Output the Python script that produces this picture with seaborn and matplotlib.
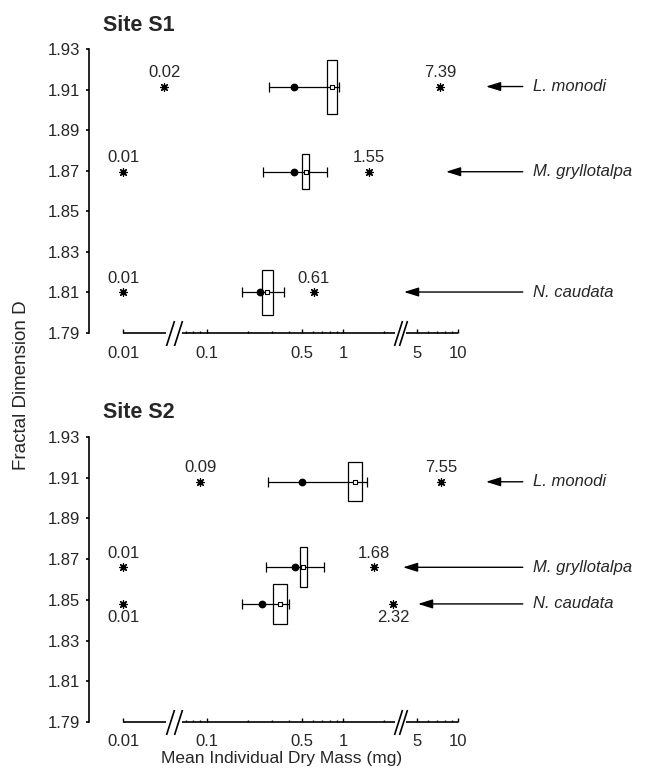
import numpy as np
import pandas as pd
import seaborn as sns
import matplotlib.pyplot as plt
from matplotlib.path import Path
from matplotlib.ticker import FixedLocator, FixedFormatter

species = ["L. monodi", "M. gryllotalpa", "N. caudata"]

# Site S1
s1_D = [1.9115, 1.8695, 1.8102]
s1_D_err = [0.0133, 0.0086, 0.0111]
s1_mean = [0.831, 0.531, 0.278]
s1_box_lo = [0.756, 0.501, 0.255]
s1_box_hi = [0.904, 0.564, 0.304]
s1_median = [0.436, 0.436, 0.246]
s1_range_lo = [0.287, 0.257, 0.182]
s1_range_hi = [0.935, 0.756, 0.368]
s1_min = [0.02, 0.01, 0.01]
s1_max = [7.39, 1.55, 0.61]

# Site S2
s2_D = [1.908, 1.866, 1.848]
s2_D_err = [0.0096, 0.0098, 0.0098]
s2_mean = [1.212, 0.510, 0.344]
s2_box_lo = [1.077, 0.482, 0.307]
s2_box_hi = [1.364, 0.540, 0.389]
s2_median = [0.496, 0.445, 0.255]
s2_range_lo = [0.282, 0.270, 0.182]
s2_range_hi = [1.483, 0.726, 0.400]
s2_min = [0.09, 0.01, 0.01]
s2_max = [7.55, 1.68, 2.32]

y_ticks = [1.79, 1.81, 1.83, 1.85, 1.87, 1.89, 1.91, 1.93]
x_major = [0.01, 0.1, 0.5, 1, 5, 10]
x_major_labels = ["0.01", "0.1", "0.5", "1", "5", "10"]
x_minor = [0.07, 0.08, 0.09, 0.2, 0.3, 0.4, 0.6, 0.7, 0.8, 0.9, 2, 6, 7, 8, 9]
# pieces of the broken x axis
pieces = [(0.01, 0.0205), (0.066, 2.39), (4.16, 10)]

# broken log scale: every piece uses the same decade length (pixel-like units)
DEC = 136.6
log_pts = np.log10([1e-3, 0.0205, 0.066, 2.39, 4.16, 100])
pos_pts = np.array([123 + DEC * (l + 2) for l in log_pts[:2]]
                   + [343.3 + DEC * l for l in log_pts[2:4]]
                   + [458 + DEC * (l - 1) for l in log_pts[4:]])


def fwd(v):
    v = np.clip(np.asarray(v, dtype=float), 1e-6, None)
    return np.interp(np.log10(v), log_pts, pos_pts)


def inv(p):
    return 10 ** np.interp(np.asarray(p, dtype=float), pos_pts, log_pts)


sns.set_style("ticks")
plt.rcParams['font.family'] = ['Liberation Sans', 'DejaVu Sans']

fig = plt.figure(figsize=(6.51, 7.69), dpi=100)
AX_L, AX_R = 89, 470          # axes edges in pixels
ax_w = (AX_R - AX_L) / 651


def fx(px):
    return (px - AX_L) / (AX_R - AX_L)


slash = Path([(-0.16, -0.5), (0.16, 0.5)], [Path.MOVETO, Path.LINETO])


def draw_site(ax, title, D, dD, mean, lo, hi, med, rlo, rhi, mn, mx, below, tips):
    ax.set_xscale('function', functions=(fwd, inv))
    ax.set_xlim(inv(AX_L), inv(AX_R))
    ax.set_ylim(1.79, 1.93)

    # boxes
    ax.barh(D, np.array(hi) - np.array(lo), left=lo, height=2 * np.array(dD),
            fill=False, edgecolor='black', linewidth=0.9, zorder=2)
    # median with range
    ax.errorbar(med, D, xerr=[np.array(med) - np.array(rlo), np.array(rhi) - np.array(med)],
                fmt='o', color='black', ms=4.6, elinewidth=0.9, capsize=3.6,
                capthick=0.9, zorder=3)
    # mean
    sns.scatterplot(x=mean, y=D, ax=ax, marker='s', s=9, color='white',
                    edgecolor='black', linewidth=0.8, zorder=4)
    # min / max
    ext = pd.DataFrame({'mass': mn + mx, 'D': D + D})
    sns.scatterplot(data=ext, x='mass', y='D', ax=ax, marker=(8, 2, 0), s=30,
                    color='black', linewidth=0.9, zorder=4, clip_on=False)
    for i, (v, d) in enumerate(zip(ext['mass'], ext['D'])):
        off = -14 if below[i % 3] else 14
        ax.annotate(f"{v:.2f}", (v, d), xytext=(0, off), textcoords='offset pixels',
                    ha='center', va='center', fontsize=12, annotation_clip=False)

    # arrows and species names
    tr = ax.get_yaxis_transform()
    for name, d, tip in zip(species, D, tips):
        ax.annotate(name, xy=(fx(tip), d), xycoords=tr, xytext=(fx(533), d),
                    textcoords=tr, ha='left', va='center', fontsize=12, style='italic',
                    annotation_clip=False,
                    arrowprops=dict(arrowstyle='-|>,head_length=0.8,head_width=0.25',
                                    color='black', lw=1, mutation_scale=11,
                                    shrinkA=5, shrinkB=0, relpos=(0, 0.5)))

    # broken x axis
    for a, b in pieces:
        ax.plot([a, b], [1.79, 1.79], color='black', lw=1.2, clip_on=False,
                solid_capstyle='butt', zorder=5)
    brk = []
    for (a0, a1), (b0, b1) in zip(pieces[:-1], pieces[1:]):
        p0, p1 = fwd(a1), fwd(b0)
        brk += [inv(p0 + 0.25 * (p1 - p0)), inv(p0 + 0.75 * (p1 - p0))]
    ax.plot(brk, [1.79] * len(brk), ls='none', marker=slash, ms=18, mew=1.2,
            color='black', clip_on=False, zorder=5)

    ax.xaxis.set_major_locator(FixedLocator(x_major))
    ax.xaxis.set_major_formatter(FixedFormatter(x_major_labels))
    ax.xaxis.set_minor_locator(FixedLocator(x_minor))
    ax.tick_params(axis='x', which='both', direction='in', width=1, labelsize=12,
                   pad=9, color='black')
    ax.tick_params(axis='x', which='major', length=3.2)
    ax.tick_params(axis='x', which='minor', length=1.8)

    ax.set_yticks(y_ticks)
    ax.set_yticklabels([f"{t:.2f}" for t in y_ticks])
    ax.tick_params(axis='y', direction='out', length=2.5, width=1.2, pad=4,
                   labelsize=12, color='black')
    for s in ['top', 'right', 'bottom']:
        ax.spines[s].set_visible(False)
    ax.spines['left'].set_linewidth(1.2)
    ax.spines['left'].set_color('black')
    ax.set_xlabel('')
    ax.set_ylabel('')
    ax.text(fx(103), 1 + 24 / 285, title, transform=ax.transAxes, ha='left',
            va='center', fontsize=15.5, fontweight='bold')


ax1 = fig.add_axes([AX_L / 651, (769 - 333) / 769, ax_w, 284 / 769])
ax2 = fig.add_axes([AX_L / 651, (769 - 722) / 769, ax_w, 285 / 769])

draw_site(ax1, "Site S1", s1_D, s1_D_err, s1_mean, s1_box_lo, s1_box_hi, s1_median,
          s1_range_lo, s1_range_hi, s1_min, s1_max, [False, False, False], [486, 446, 404])
draw_site(ax2, "Site S2", s2_D, s2_D_err, s2_mean, s2_box_lo, s2_box_hi, s2_median,
          s2_range_lo, s2_range_hi, s2_min, s2_max, [False, False, True], [486, 403, 418])

fig.text(22 / 651, 1 - 385 / 769, "Fractal Dimension D", rotation=90, ha='center',
         va='center', fontsize=13.5)
fig.text(282 / 651, 1 - 758 / 769, "Mean Individual Dry Mass (mg)", ha='center',
         va='center', fontsize=12.5)

fig.savefig('out.png', dpi=100)
